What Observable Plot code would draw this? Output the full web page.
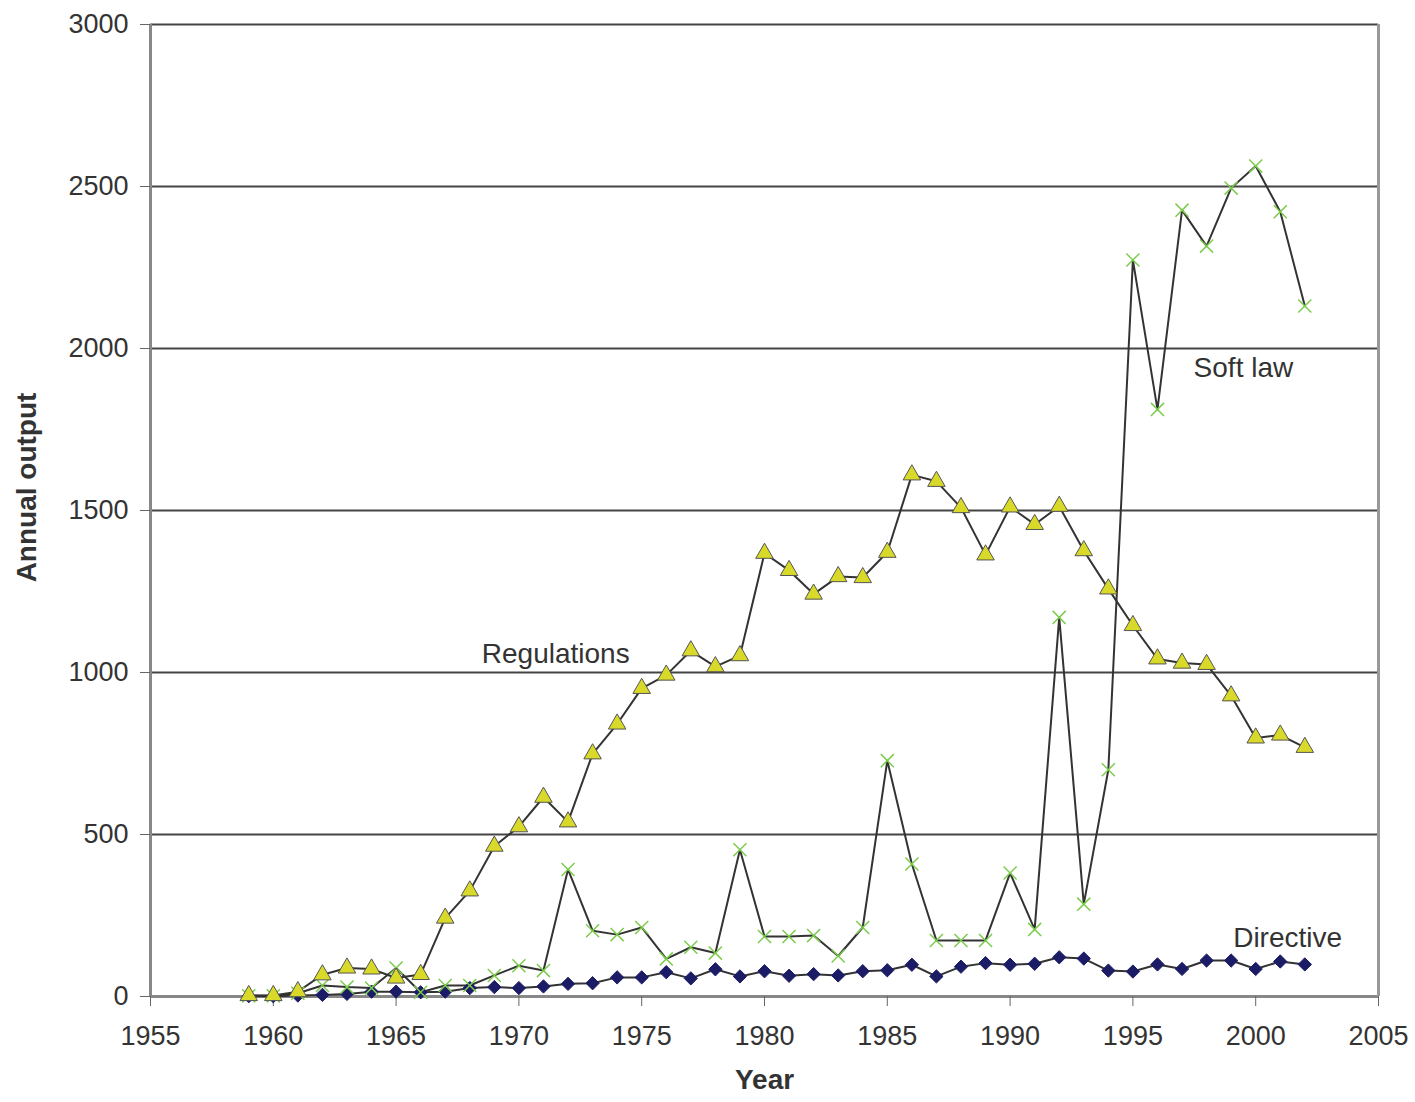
<!DOCTYPE html>
<html>
<head>
<meta charset="utf-8">
<script src="https://cdn.jsdelivr.net/npm/d3@7"></script>
<script src="https://cdn.jsdelivr.net/npm/@observablehq/plot@0.6"></script>
<style>
  html, body { margin: 0; padding: 0; background: #fff; }
  #chart svg { display: block; }
</style>
</head>
<body>
<div id="chart"></div>
<script>
const years = d3.range(1959, 2003);
const regulations = [3,3,15,67,88,85,57,68,242,326,464,524,615,539,749,841,951,992,1067,1018,1052,1368,1315,1242,1296,1293,1371,1610,1590,1509,1363,1511,1457,1513,1376,1258,1145,1042,1029,1025,928,798,807,769];
const softLaw = [2,2,10,34,29,26,88,13,34,34,65,95,80,392,203,191,213,116,152,134,453,185,185,188,125,213,728,409,173,173,173,381,207,1170,285,700,2273,1812,2427,2316,2495,2563,2422,2131];
const directive = [1,1,3,5,8,15,15,13,15,26,29,26,31,39,41,59,59,75,56,84,62,78,64,69,65,78,81,98,62,92,103,98,101,121,117,80,77,99,85,111,111,85,108,99];
const xTicks = [1955,1960,1965,1970,1975,1980,1985,1990,1995,2000,2005];
const yTicks = [0,500,1000,1500,2000,2500,3000];
const gridTicks = [500,1000,1500,2000,2500,3000];
const seriesLabels = ["Regulations", "Soft law", "Directive"];
const labelYears = [1971.5, 1999.5, 2001.3];
const labelValues = [1058, 1941, 182];

const rows = years.map((year, i) => ({year, regulations: regulations[i], softLaw: softLaw[i], directive: directive[i]}));
const annotations = seriesLabels.map((label, i) => ({label, year: labelYears[i], value: labelValues[i]}));

const font = "'Liberation Sans', Arial, Helvetica, sans-serif";
const lineColor = "#333";

const chart = Plot.plot({
  width: 1415,
  height: 1102,
  marginLeft: 150,
  marginRight: 37,
  marginTop: 24,
  marginBottom: 106,
  style: {fontFamily: font, fontSize: "27px", color: "#333", background: "#fff"},
  x: {domain: [1955, 2005]},
  y: {domain: [0, 3000]},
  marks: [
    Plot.gridY(gridTicks, {stroke: "#444", strokeOpacity: 1, strokeWidth: 2}),
    Plot.ruleY([0], {stroke: "#888", strokeWidth: 3}),
    Plot.ruleX([1955], {stroke: "#888", strokeWidth: 3}),
    Plot.ruleX([2005], {stroke: "#999", strokeWidth: 3}),
    Plot.axisY({ticks: yTicks, tickSize: 10, tickPadding: 12, tickFormat: d => String(d), fontSize: 27, label: null, stroke: "#666", fill: "#333"}),
    Plot.axisX({ticks: xTicks, tickSize: 10, tickPadding: 19, tickFormat: d => String(d), fontSize: 27, label: null, stroke: "#666", fill: "#333"}),
    Plot.text(["Annual output"], {frameAnchor: "left", textAnchor: "middle", dx: -123, dy: -23, rotate: -90, fontWeight: "bold", fontSize: 28, fill: "#333"}),
    Plot.text(["Year"], {frameAnchor: "bottom", dy: 92, fontWeight: "bold", fontSize: 28, fill: "#333"}),
    Plot.line(rows, {x: "year", y: "directive", stroke: lineColor, strokeWidth: 2}),
    Plot.line(rows, {x: "year", y: "softLaw", stroke: lineColor, strokeWidth: 2}),
    Plot.line(rows, {x: "year", y: "regulations", stroke: lineColor, strokeWidth: 2}),
    Plot.dot(rows, {x: "year", y: "directive", symbol: "diamond2", r: 6, fill: "#1c1c66", stroke: "#1c1c66", strokeWidth: 1}),
    Plot.dot(rows, {x: "year", y: "softLaw", symbol: "times", r: 6, stroke: "#7ccc4c", strokeWidth: 1.5}),
    Plot.dot(rows, {x: "year", y: "regulations", symbol: "triangle", r: 6.5, fill: "#d9d92a", stroke: "#555", strokeWidth: 1}),
    Plot.text(annotations, {x: "year", y: "value", text: "label", fontSize: 28, fill: "#333"})
  ]
});
document.getElementById("chart").appendChild(chart);
</script>
</body>
</html>
